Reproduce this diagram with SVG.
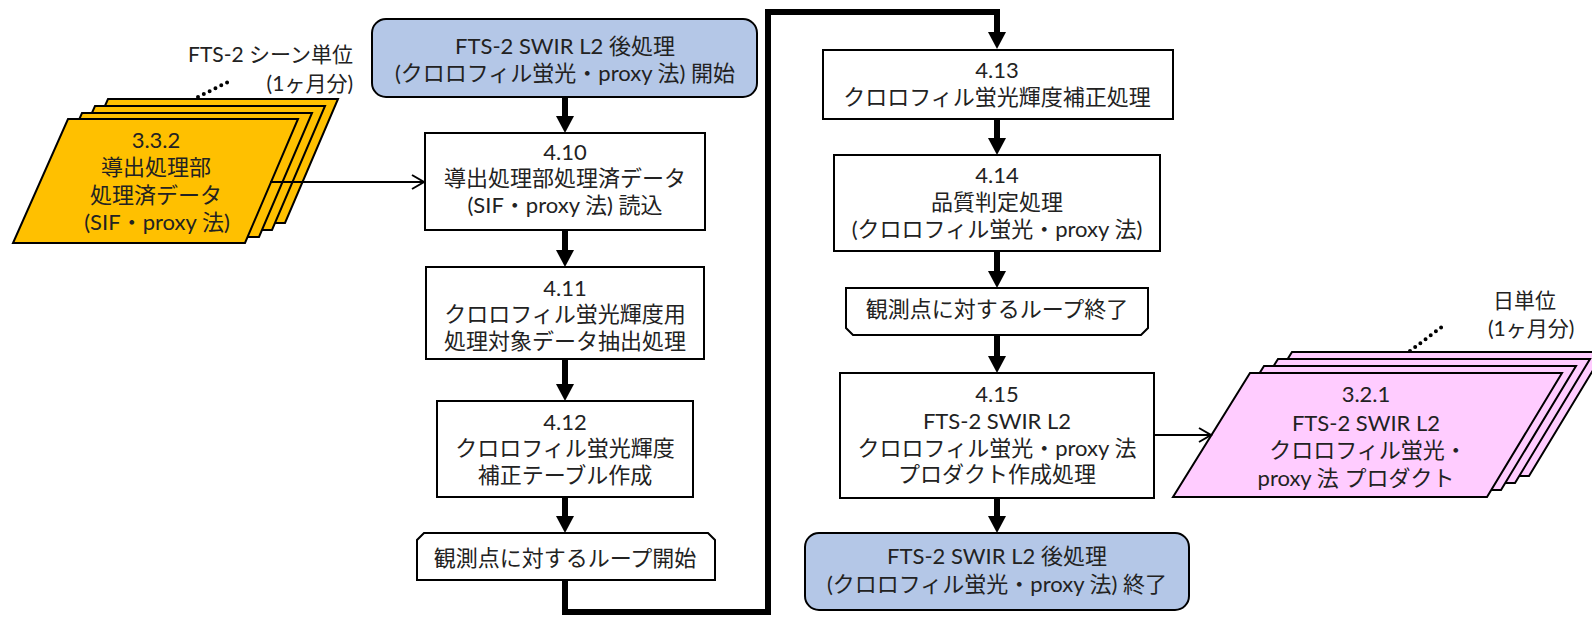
<svg xmlns="http://www.w3.org/2000/svg" width="1592" height="617" viewBox="0 0 1592 617">
<style>
.t{font-family:"Lato","Noto Sans CJK JP",sans-serif;font-size:22px;fill:#222;text-anchor:middle}
.l{font-family:"Lato","Noto Sans CJK JP",sans-serif;font-size:21px;fill:#222}
.box{fill:#fff;stroke:#000;stroke-width:2}
.term{fill:#b4c7e7;stroke:#000;stroke-width:2}
.yel{fill:#ffc000;stroke:#000;stroke-width:2;stroke-linejoin:miter}
.pnk{fill:#ffccff;stroke:#000;stroke-width:2;stroke-linejoin:miter}
.thick{fill:none;stroke:#000;stroke-width:6;stroke-linejoin:miter}
.thin{fill:none;stroke:#000;stroke-width:2}
.dot{fill:none;stroke:#000;stroke-width:4;stroke-linecap:round;stroke-dasharray:0 6.5}
</style>
<defs>
<marker id="ah" markerUnits="userSpaceOnUse" markerWidth="18" markerHeight="18" refX="1" refY="9" orient="auto" overflow="visible">
<path d="M0,0 L17,9 L0,18 z" fill="#000"/>
</marker>
<marker id="oa" markerUnits="userSpaceOnUse" markerWidth="14" markerHeight="14" refX="13" refY="7" orient="auto" overflow="visible">
<path d="M1,0 L13,7 L1,14" fill="none" stroke="#000" stroke-width="2"/>
</marker>
</defs>

<g id="input-data">
<polygon class="yel" points="108,99 338,99 285,223 53,223"/>
<polygon class="yel" points="95,106 325,106 272,230 40,230"/>
<polygon class="yel" points="82,113 312,113 259,237 27,237"/>
<polygon class="yel" points="68,119 298,119 245,243 13,243"/>
<text class="t" x="156" y="148">3.3.2</text>
<text class="t" x="156" y="175">導出処理部</text>
<text class="t" x="156" y="203">処理済データ</text>
<text class="t" x="157" y="230">(SIF・proxy 法)</text>
<path class="dot" d="M198,97 L228,82"/>
<text class="l" x="353" y="62" text-anchor="end">FTS-2 シーン単位</text>
<text class="l" x="353" y="91" text-anchor="end">(1ヶ月分)</text>
</g>

<g id="output-data">
<polygon class="pnk" points="1292,352 1604,352 1529,476 1215,476"/>
<polygon class="pnk" points="1278,359 1590,359 1515,483 1201,483"/>
<polygon class="pnk" points="1264,366 1576,366 1501,490 1187,490"/>
<polygon class="pnk" points="1250,373 1562,373 1487,497 1173,497"/>
<text class="t" x="1366" y="402">3.2.1</text>
<text class="t" x="1366" y="431">FTS-2 SWIR L2</text>
<text class="t" x="1368" y="458">クロロフィル蛍光・</text>
<text class="t" x="1356" y="486">proxy 法 プロダクト</text>
<path class="dot" d="M1410,351 L1443,326"/>
<text class="l" x="1493" y="308">日単位</text>
<text class="l" x="1488" y="336">(1ヶ月分)</text>
</g>

<g id="start">
<rect class="term" x="372" y="19" width="385" height="78" rx="14"/>
<text class="t" x="565" y="54">FTS-2 SWIR L2 後処理</text>
<text class="t" x="565" y="81">(クロロフィル蛍光・proxy 法) 開始</text>
</g>

<g id="p410">
<rect class="box" x="425" y="133" width="280" height="97"/>
<text class="t" x="565" y="160">4.10</text>
<text class="t" x="565" y="186">導出処理部処理済データ</text>
<text class="t" x="565" y="213">(SIF・proxy 法) 読込</text>
</g>

<g id="p411">
<rect class="box" x="426" y="267" width="278" height="92"/>
<text class="t" x="565" y="296">4.11</text>
<text class="t" x="565" y="322">クロロフィル蛍光輝度用</text>
<text class="t" x="565" y="349">処理対象データ抽出処理</text>
</g>

<g id="p412">
<rect class="box" x="437" y="401" width="256" height="96"/>
<text class="t" x="565" y="430">4.12</text>
<text class="t" x="565" y="456">クロロフィル蛍光輝度</text>
<text class="t" x="565" y="483">補正テーブル作成</text>
</g>

<g id="loop-start">
<path class="box" d="M424,533 H708 L715,540 V580 H417 V540 Z"/>
<text class="t" x="565" y="566">観測点に対するループ開始</text>
</g>

<g id="p413">
<rect class="box" x="823" y="50" width="350" height="69"/>
<text class="t" x="997" y="78">4.13</text>
<text class="t" x="997" y="105">クロロフィル蛍光輝度補正処理</text>
</g>

<g id="p414">
<rect class="box" x="834" y="155" width="326" height="96"/>
<text class="t" x="997" y="183">4.14</text>
<text class="t" x="997" y="210">品質判定処理</text>
<text class="t" x="997" y="237">(クロロフィル蛍光・proxy 法)</text>
</g>

<g id="loop-end">
<path class="box" d="M846,288 H1148 V328 L1141,335 H853 L846,328 Z"/>
<text class="t" x="997" y="317">観測点に対するループ終了</text>
</g>

<g id="p415">
<rect class="box" x="840" y="373" width="314" height="125"/>
<text class="t" x="997" y="402">4.15</text>
<text class="t" x="997" y="429">FTS-2 SWIR L2</text>
<text class="t" x="997" y="456">クロロフィル蛍光・proxy 法</text>
<text class="t" x="997" y="482">プロダクト作成処理</text>
</g>

<g id="end">
<rect class="term" x="805" y="533" width="384" height="77" rx="14"/>
<text class="t" x="997" y="564">FTS-2 SWIR L2 後処理</text>
<text class="t" x="997" y="592">(クロロフィル蛍光・proxy 法) 終了</text>
</g>

<g id="connectors">
<path class="thick" d="M565,97 V117" marker-end="url(#ah)"/>
<path class="thick" d="M565,230 V251" marker-end="url(#ah)"/>
<path class="thick" d="M565,359 V385" marker-end="url(#ah)"/>
<path class="thick" d="M565,497 V517" marker-end="url(#ah)"/>
<path class="thick" d="M565,580 V612 H768 V12 H997 V33" marker-end="url(#ah)"/>
<path class="thick" d="M997,119 V139" marker-end="url(#ah)"/>
<path class="thick" d="M997,251 V272" marker-end="url(#ah)"/>
<path class="thick" d="M997,335 V357" marker-end="url(#ah)"/>
<path class="thick" d="M997,498 V517" marker-end="url(#ah)"/>
<path class="thin" d="M270,182 H424" marker-end="url(#oa)"/>
<path class="thin" d="M1154,435 H1211" marker-end="url(#oa)"/>
</g>
</svg>
